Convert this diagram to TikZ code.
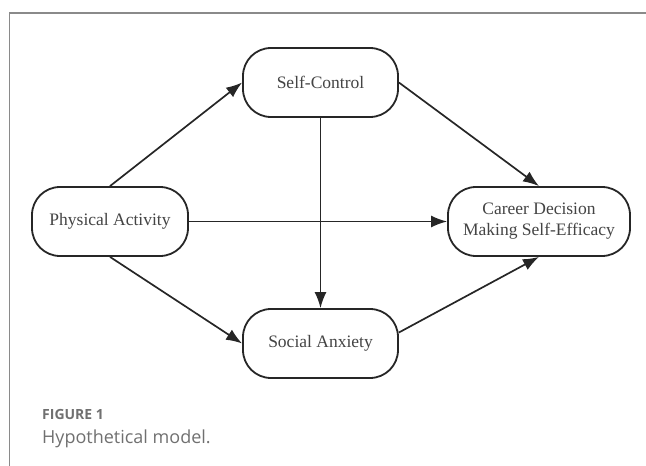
\documentclass[tikz,border=0pt]{standalone}
\usepackage{fontspec}
\usetikzlibrary{arrows.meta}
\newfontfamily\nodefont{Liberation Serif}
\newfontfamily\capfont{Open Sans}
\definecolor{linec}{HTML}{262626}
\definecolor{textc}{HTML}{444444}
\definecolor{framec}{HTML}{8A8A8A}
\definecolor{capc}{HTML}{707070}
\tikzset{
  box/.style={draw=linec, line width=1.8pt, rounded corners=28pt, fill=white,
    minimum height=69pt, text=textc, align=center,
    font=\nodefont\fontsize{17.5}{21}\selectfont, inner sep=0pt},
  link/.style={draw=linec, line width=1.7pt, -{Latex[length=16pt,width=12pt]}},
  frameline/.style={draw=framec, line width=1.4pt}
}
\begin{document}
\begin{tikzpicture}[x=1pt,y=-1pt]
\useasboundingbox (0,0) rectangle (646,466);
\draw[frameline] (9.5,466) -- (9.5,13) -- (646,13);
\node[box, minimum width=155pt] (SC) at (320.5,82.5) {Self-Control};
\node[box, minimum width=156pt] (PA) at (110,221.5) {Physical Activity};
\node[box, minimum width=182pt] (CD) at (539,221.5) {Career Decision\\Making Self-Efficacy};
\node[box, minimum width=155pt] (SA) at (320.5,343.5) {Social Anxiety};
\draw[link] (PA.north) -- (SC.west);
\draw[link] (SC.east) -- (CD.north);
\draw[link] (PA.east) -- (CD.west);
\draw[link] (SC.south) -- (SA.north);
\draw[link] (PA.south) -- (SA.west);
\draw[link] ([yshift=11pt]SA.east) -- (CD.south);
\node[anchor=base west, inner sep=0pt, text=capc, font=\capfont\bfseries\fontsize{14}{17}\selectfont] (fig) at (42,419) {FIGURE 1};
\node[anchor=base west, inner sep=0pt, text=capc, font=\capfont\fontsize{18}{22}\selectfont] (cap) at (42,443) {Hypothetical model.};
\end{tikzpicture}
\end{document}
